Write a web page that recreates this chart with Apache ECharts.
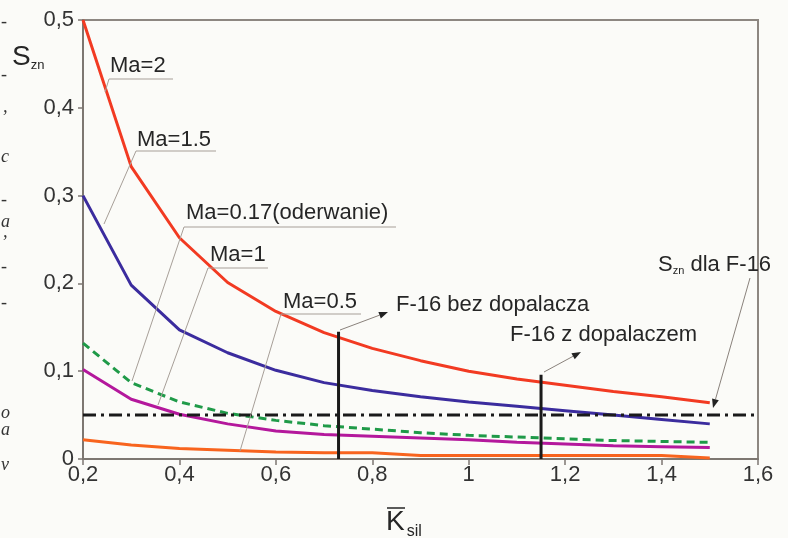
<!DOCTYPE html>
<html>
<head>
<meta charset="utf-8">
<script src="https://cdn.jsdelivr.net/npm/echarts@6/dist/echarts.min.js"></script>
<style>
html,body{margin:0;padding:0;background:#fbfbf8;}
#c{width:788px;height:538px;}
</style>
</head>
<body>
<div id="c"></div>
<script>
// ---- data ----
const K = [0.2, 0.3, 0.4, 0.5, 0.6, 0.7, 0.8, 0.9, 1.0, 1.1, 1.2, 1.3, 1.4, 1.5];
const ma2   = [0.5, 0.333, 0.252, 0.201, 0.168, 0.144, 0.126, 0.112, 0.100, 0.091, 0.084, 0.077, 0.071, 0.064];
const ma15  = [0.300, 0.198, 0.147, 0.121, 0.101, 0.087, 0.078, 0.071, 0.065, 0.060, 0.055, 0.050, 0.045, 0.040];
const ma017 = [0.132, 0.087, 0.065, 0.052, 0.044, 0.038, 0.034, 0.030, 0.027, 0.025, 0.023, 0.021, 0.020, 0.019];
const ma1   = [0.102, 0.068, 0.051, 0.040, 0.032, 0.028, 0.026, 0.024, 0.022, 0.019, 0.017, 0.015, 0.014, 0.013];
const ma05  = [0.022, 0.016, 0.012, 0.010, 0.008, 0.007, 0.007, 0.004, 0.004, 0.004, 0.004, 0.004, 0.004, 0.001];
const f16Level = 0.05;
const f16K = [0.73, 1.15];
const f16Top = [0.145, 0.096];
const xTicks = [0.2, 0.4, 0.6, 0.8, 1.0, 1.2, 1.4, 1.6];
const yTicks = [0, 0.1, 0.2, 0.3, 0.4, 0.5];

const pairs = (ys) => K.map((k, i) => [k, ys[i]]);
const fmt = (v) => String(+(+v).toFixed(2)).replace('.', ',');

const FONT = '"Liberation Sans", Arial, sans-serif';
const lineSeries = (name, ys, color, type) => ({
  name, type: 'line', data: pairs(ys), showSymbol: false, smooth: false,
  lineStyle: { color, width: 3, type: type || 'solid' }, z: 3
});

const series = [
  lineSeries('Ma=2', ma2, '#f23a22'),
  lineSeries('Ma=1.5', ma15, '#3b2c9e'),
  lineSeries('Ma=0.17', ma017, '#1f9a48', [8, 5]),
  lineSeries('Ma=1', ma1, '#b4189c'),
  lineSeries('Ma=0.5', ma05, '#f8641e'),
  {
    name: 'Szn F-16', type: 'line', showSymbol: false,
    data: [[xTicks[0], f16Level], [xTicks[xTicks.length - 1], f16Level]],
    lineStyle: { color: '#1a1a1a', width: 3, type: [13, 5, 3, 5] }, z: 4
  }
];
f16K.forEach((k, i) => series.push({
  name: 'F16_' + i, type: 'line', showSymbol: false,
  data: [[k, 0], [k, f16Top[i]]],
  lineStyle: { color: '#1a1a1a', width: 3 }, z: 5
}));

// annotation helpers
const thin = '#a79f98';
function seg(x1, y1, x2, y2, color, w) {
  return { type: 'line', shape: { x1, y1, x2, y2 }, style: { stroke: color || thin, lineWidth: w || 1 }, z: 10 };
}
function arrow(x1, y1, x2, y2) {
  const a = Math.atan2(y2 - y1, x2 - x1), L = 9, W = 3.5;
  const bx = x2 - L * Math.cos(a), by = y2 - L * Math.sin(a);
  const px = -Math.sin(a) * W, py = Math.cos(a) * W;
  return [
    seg(x1, y1, bx, by, '#8a827c', 1),
    { type: 'polygon', shape: { points: [[x2, y2], [bx + px, by + py], [bx - px, by - py]] }, style: { fill: '#222' }, z: 11 }
  ];
}
function label(text, x, y, size) {
  return { type: 'text', x, y, style: { text, font: (size || 22) + 'px ' + FONT, fill: '#262626', verticalAlign: 'middle' }, z: 12 };
}

const graphic = [
  label('Ma=2', 110, 66), seg(109, 79, 173, 79), seg(109, 79, 105, 92),
  label('Ma=1.5', 137, 140), seg(136, 151, 216, 151), seg(136, 151, 104, 224),
  label('Ma=0.17(oderwanie)', 186, 213), seg(184, 227, 396, 227), seg(184, 227, 132, 381),
  label('Ma=1', 210, 255), seg(208, 268, 268, 268), seg(208, 268, 158, 405),
  label('Ma=0.5', 283, 302), seg(281, 314, 361, 314), seg(281, 314, 240, 451),
  label('F-16 bez dopalacza', 396, 305),
  ...arrow(340, 330, 388, 312),
  label('F-16 z dopalaczem', 510, 335),
  ...arrow(544, 372, 581, 352),
  {
    type: 'text', x: 658, y: 265, z: 12,
    style: {
      text: '{s|S}{sub|zn}{s| dla F-16}', verticalAlign: 'middle',
      rich: {
        s: { font: '22px ' + FONT, fill: '#262626' },
        sub: { font: '11px ' + FONT, fill: '#262626', padding: [12, 0, 0, 0] }
      }
    }
  },
  ...arrow(750, 278, 713, 408),
  // axis titles
  {
    type: 'text', x: 12, y: 57, z: 12,
    style: {
      text: '{s|S}{sub|zn}', verticalAlign: 'middle',
      rich: {
        s: { font: '28px ' + FONT, fill: '#262626' },
        sub: { font: '13px ' + FONT, fill: '#262626', padding: [16, 0, 0, 0] }
      }
    }
  },
  {
    type: 'text', x: 386, y: 522, z: 12,
    style: {
      text: '{s|K}{sub|sil}', verticalAlign: 'middle',
      rich: {
        s: { font: '28px ' + FONT, fill: '#262626' },
        sub: { font: '16px ' + FONT, fill: '#262626', padding: [20, 0, 0, 2] }
      }
    }
  },
  seg(387, 508, 405, 508, '#262626', 1.5)
];
// scanned neighbouring page fragments on the left edge
[['-', 22], ['-', 75], ['\u2019', 118], ['c', 157], ['-', 200], ['a', 222], ['\u2019', 243], ['-', 267], ['-', 303], ['o', 413], ['a', 430], ['v', 465]]
  .forEach(([t, y]) => graphic.push({ type: 'text', x: 1, y, style: { text: t, font: 'italic 18px "Liberation Serif", serif', fill: '#333', verticalAlign: 'middle' }, z: 1 }));

const chart = echarts.init(document.getElementById('c'), null, { renderer: 'canvas' });
chart.setOption({
  backgroundColor: '#fbfbf8',
  animation: false,
  grid: { left: 83, right: 30, top: 20, bottom: 79, show: true, borderColor: '#8d8781', borderWidth: 2, backgroundColor: 'transparent' },
  xAxis: {
    type: 'value', min: xTicks[0], max: xTicks[xTicks.length - 1], interval: 0.2,
    axisLine: { show: true, lineStyle: { color: '#7d7771', width: 2 } },
    axisTick: { show: true, length: 6, lineStyle: { color: '#7d7771', width: 1.5 } },
    axisLabel: { formatter: fmt, fontFamily: FONT, fontSize: 22, color: '#333', margin: 5 },
    splitLine: { show: false }
  },
  yAxis: {
    type: 'value', min: yTicks[0], max: yTicks[yTicks.length - 1], interval: 0.1,
    axisLine: { show: true, lineStyle: { color: '#7d7771', width: 2 } },
    axisTick: { show: true, length: 5, lineStyle: { color: '#7d7771', width: 1.5 } },
    axisLabel: { formatter: fmt, fontFamily: FONT, fontSize: 22, color: '#333', margin: 9 },
    splitLine: { show: false }
  },
  series,
  graphic
});
</script>
</body>
</html>
